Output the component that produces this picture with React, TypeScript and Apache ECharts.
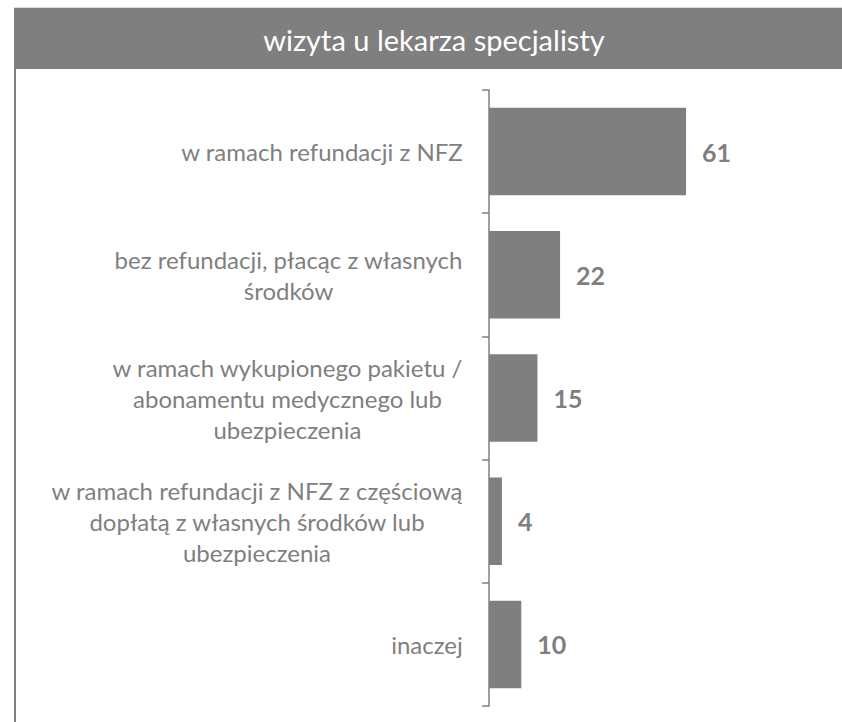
import React, { useEffect, useRef } from "react";
import * as echarts from "echarts";

const TITLE = "wizyta u lekarza specjalisty";
const CATEGORIES: string[][] = [
  ["w ramach refundacji z NFZ"],
  ["bez refundacji, płacąc z własnych", "środków"],
  ["w ramach wykupionego pakietu /", "abonamentu medycznego lub", "ubezpieczenia"],
  ["w ramach refundacji z NFZ z częściową", "dopłatą z własnych środków lub", "ubezpieczenia"],
  ["inaczej"],
];
const VALUES: number[] = [61, 22, 15, 4, 10];

const GREY = "#7f7f7f";
const FONT = "Lato, 'Open Sans', sans-serif";
const LABEL_SIZE = 24;

function measure(text: string, font: string): number {
  const c = document.createElement("canvas");
  const ctx = c.getContext("2d");
  if (!ctx) return text.length * 10;
  ctx.font = font;
  return ctx.measureText(text).width;
}

export default function App() {
  const ref = useRef<HTMLDivElement>(null);
  useEffect(() => {
    if (!ref.current) return;
    const chart = echarts.init(ref.current, undefined, { renderer: "svg" });
    const catKeys = CATEGORIES.map((_, i) => String(i));
    const rich: Record<string, any> = {};
    CATEGORIES.forEach((lines, i) => {
      const w = Math.ceil(
        Math.max(...lines.map((l) => measure(l, `${LABEL_SIZE}px ${FONT}`)))
      );
      rich["c" + i] = {
        width: w,
        align: "center",
        fontFamily: FONT,
        fontSize: LABEL_SIZE,
        lineHeight: 31,
        color: GREY,
      };
    });
    chart.setOption({
      animation: false,
      backgroundColor: "#ffffff",
      grid: { left: 489, right: 30, top: 90, bottom: 16, containLabel: false },
      xAxis: {
        type: "value",
        min: 0,
        max: 100,
        show: false,
      },
      yAxis: {
        type: "category",
        inverse: true,
        data: catKeys,
        axisLine: { show: true, lineStyle: { color: GREY, width: 1.5 } },
        axisTick: { show: true, length: 7, lineStyle: { color: GREY, width: 1.5 } },
        axisLabel: {
          margin: 26,
          align: "right",
          verticalAlign: "middle",
          formatter: (v: string) => {
            const i = Number(v);
            return CATEGORIES[i].map((l) => `{c${i}|${l}}`).join("\n");
          },
          rich,
        },
      },
      series: [
        {
          type: "bar",
          data: VALUES,
          barCategoryGap: "29%",
          itemStyle: { color: GREY },
          label: {
            show: true,
            position: "right",
            distance: 16,
            fontFamily: FONT,
            fontWeight: "bold",
            fontSize: 25,
            color: GREY,
          },
        },
      ],
      graphic: [
        {
          type: "rect",
          shape: { x: 14, y: 8, width: 828, height: 61 },
          style: { fill: GREY },
          silent: true,
        },
        {
          type: "line",
          shape: { x1: 14, y1: 7.5, x2: 842, y2: 7.5 },
          style: { stroke: "#d9d9d9", lineWidth: 1 },
          silent: true,
        },
        {
          type: "line",
          shape: { x1: 15, y1: 69, x2: 15, y2: 722 },
          style: { stroke: GREY, lineWidth: 2 },
          silent: true,
        },
        {
          type: "text",
          x: 434,
          y: 39,
          style: {
            text: TITLE,
            fill: "#ffffff",
            fontFamily: FONT,
            fontSize: 29,
            textAlign: "center",
            textVerticalAlign: "middle",
          },
          silent: true,
        },
      ],
    });
    return () => chart.dispose();
  }, []);
  return (
    <div
      ref={ref}
      style={{ position: "absolute", left: 0, top: 0, width: 842, height: 722 }}
    />
  );
}
